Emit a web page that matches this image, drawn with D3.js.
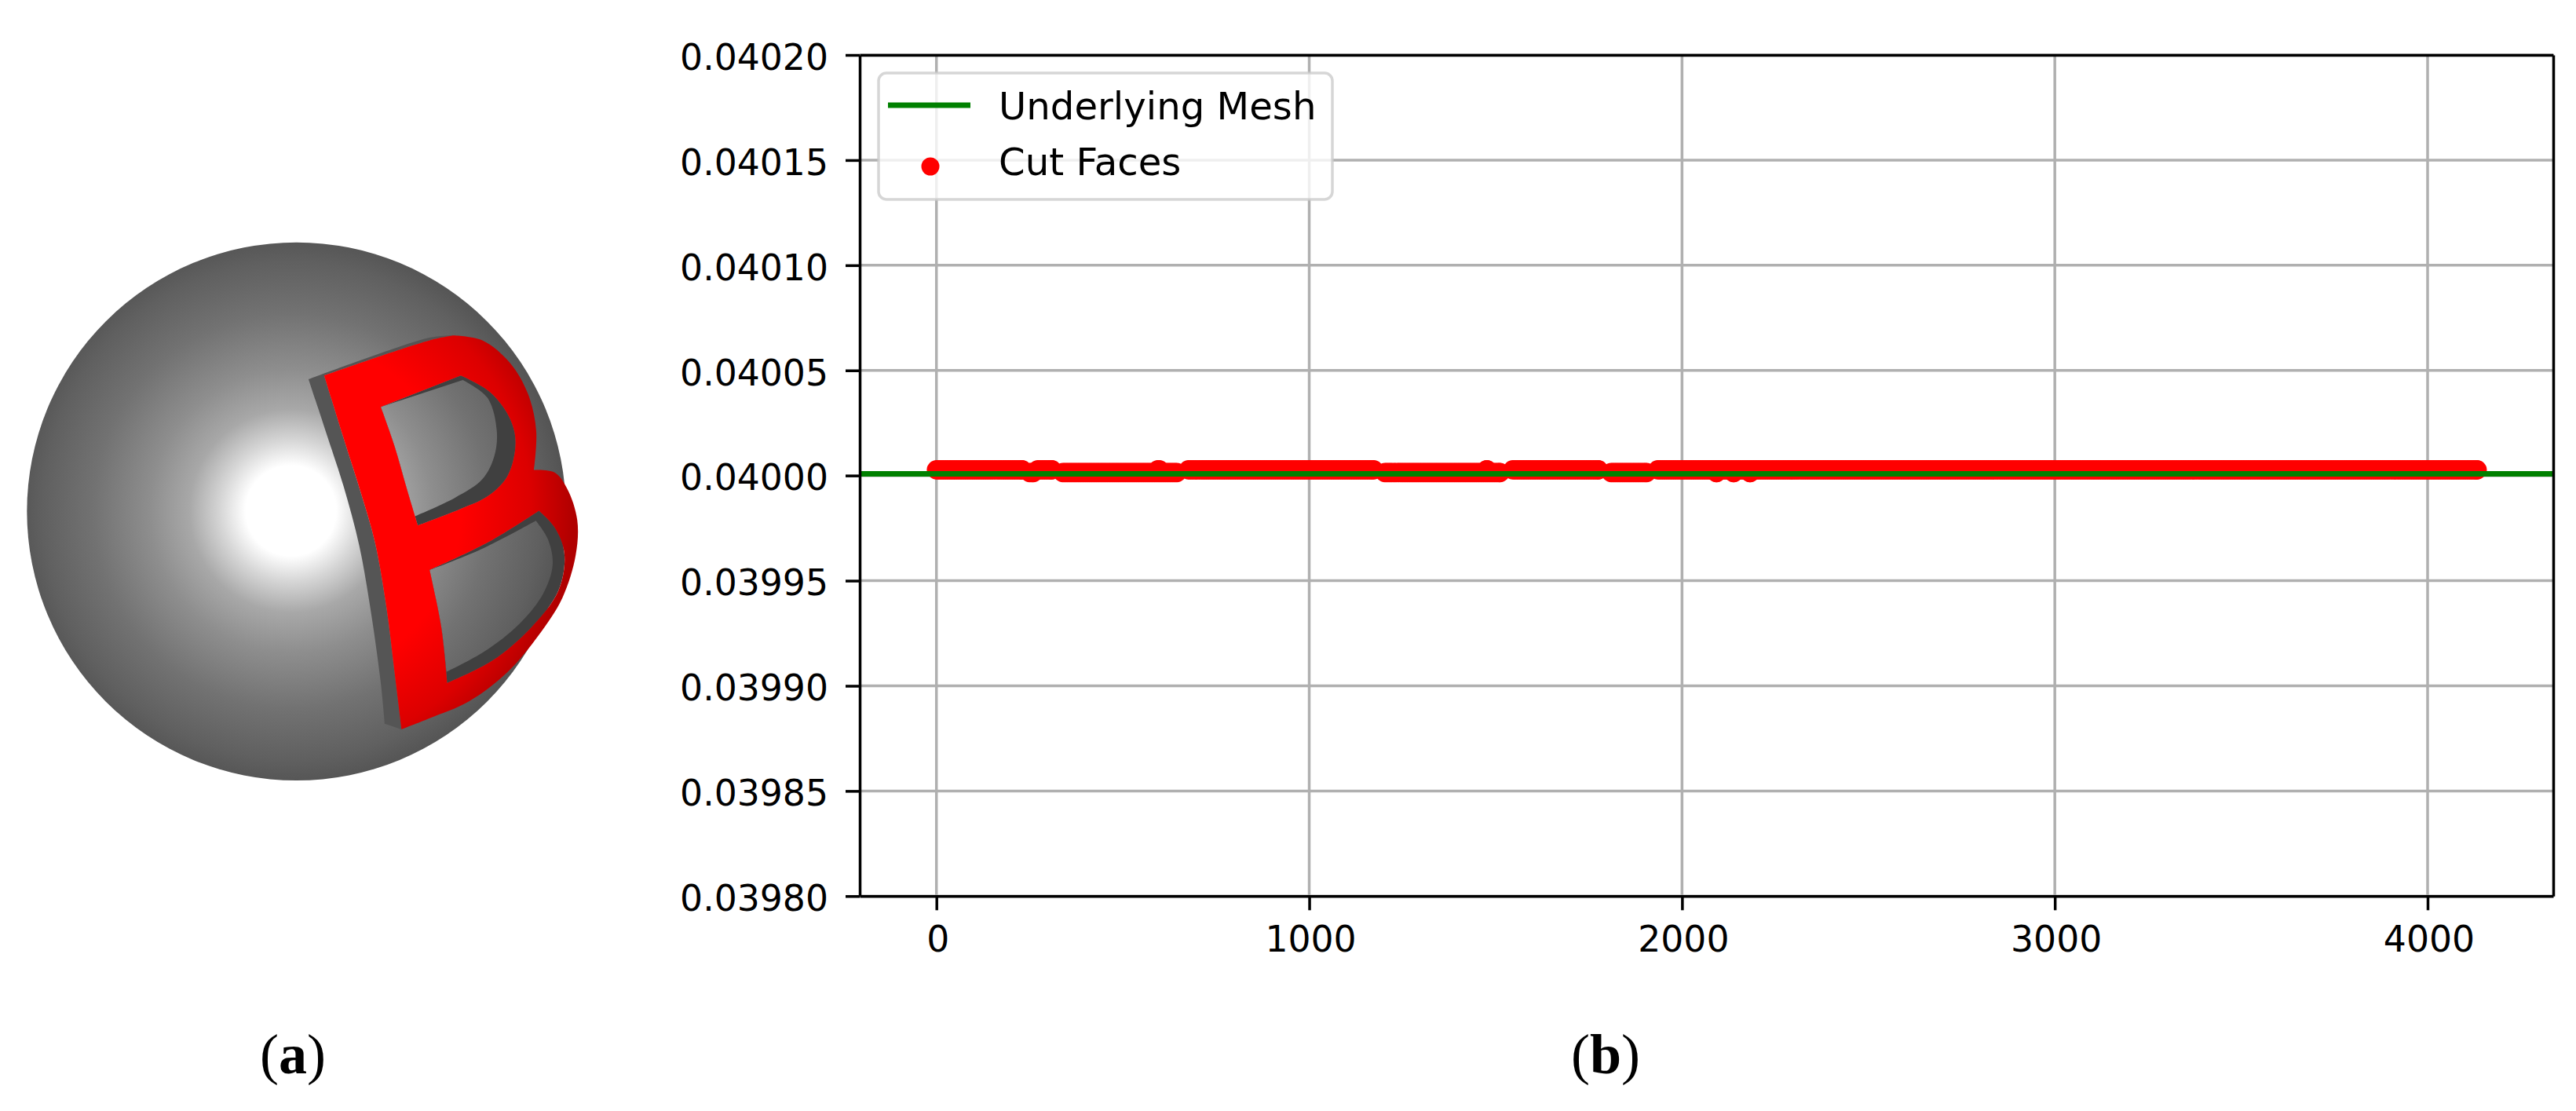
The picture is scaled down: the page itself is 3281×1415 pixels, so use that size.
<!DOCTYPE html>
<html><head><meta charset="utf-8">
<script src="https://cdnjs.cloudflare.com/ajax/libs/d3/7.8.5/d3.min.js"></script>
<style>html,body{margin:0;padding:0;background:#fff}svg{display:block}</style>
</head><body>
<script>
// ---- chart (b) data ----
const xTicks = [0, 1000, 2000, 3000, 4000];
const yTicks = [0.0398, 0.03985, 0.0399, 0.03995, 0.04, 0.04005, 0.0401, 0.04015, 0.0402];
const xDomain = [-205.8, 4337];
const yDomain = [0.0398, 0.0402];
const meshValue = 0.0400008;
const legendLabels = ["Underlying Mesh", "Cut Faces"];
const captions = ["a", "b"];
const highValue = 0.0400027;
const lowValue = 0.0400014;
// face-index runs, at the upper level and at the lower level
const highRuns = [[0, 230], [272, 310], [594, 598], [676, 1173], [1476, 1477], [1546, 1776], [1935, 4133]];
const lowRuns = [[250, 260], [339, 645], [1203, 1512], [1810, 1905], [2092, 2093], [2138, 2139], [2182, 2183]];
const faceStep = 6;

// ---- panel (a) outline, in picture units ----
const sphereCentre = [759, 787];
const sphereRadius = [690, 726];
const sideStrip = [[[790,430],[840,590],[880,720],[920,880],[950,1060],[975,1250],[985,1360]],[[985,1360],[1028,1375]],[[1028,1375],[1010,1220],[990,1050],[960,870],[925,740],[880,590],[830,420]],[[830,420],[1100,325],[1160,312]],[[1160,312],[1100,318],[790,430]]];
const outerB = [[[830,420],[1100,325],[1160,312]],[[1160,312],[1235,325],[1305,385],[1352,470],[1373,570],[1367,675]],[[1367,675],[1420,682],[1452,725],[1478,810],[1474,905],[1440,1020],[1380,1120],[1300,1220],[1200,1300],[1100,1345],[1028,1375]],[[1028,1375],[1010,1220],[990,1050],[960,870],[925,740],[880,590],[830,420]]];
const upperHole = [[[975,505],[1180,420]],[[1180,420],[1255,465],[1305,535],[1320,600],[1300,690],[1250,745],[1180,780],[1070,825]],[[1070,825],[1040,720],[1010,610],[975,505]]];
const upperFloor = [[[975,505],[1185,432]],[[1185,432],[1248,480],[1272,570],[1265,640],[1235,700],[1165,750],[1062,800]],[[1062,800],[1040,720],[1010,610],[975,505]]];
const lowerHole = [[[1100,945],[1250,870],[1380,785]],[[1380,785],[1420,830],[1445,900],[1430,1000],[1360,1100],[1260,1190],[1145,1250]],[[1145,1250],[1130,1100],[1100,945]]];
const lowerFloor = [[[1100,945],[1230,890],[1372,812]],[[1372,812],[1402,860],[1415,930],[1390,1010],[1330,1090],[1240,1165],[1143,1220]],[[1143,1220],[1130,1100],[1100,945]]];

// ---- layout ----
const W = 3281, H = 1415;
const plot = {l: 1095, r: 3252, t: 70, b: 1141.3};
const svg = d3.select("body").append("svg").attr("width", W).attr("height", H).attr("viewBox", `0 0 ${W} ${H}`);
const font = "'DejaVu Sans', sans-serif";

const px = d3.scaleLinear().domain([0, 1568]).range([0, 780]);
const py = d3.scaleLinear().domain([0, 1568]).range([280, 280 + 740]);
const defs = svg.append("defs");
function radial(id, stops) {
  const g = defs.append("radialGradient").attr("id", id).attr("gradientUnits", "userSpaceOnUse")
    .attr("cx", px(745)).attr("cy", py(785)).attr("r", 360);
  stops.forEach(s => g.append("stop").attr("offset", s[0]).attr("stop-color", s[1]));
}
radial("ball", [[0,"#ffffff"],[0.16,"#ffffff"],[0.25,"#d6d6d6"],[0.36,"#a8a8a8"],[0.5,"#8e8e8e"],[0.7,"#727272"],[0.88,"#606060"],[1,"#505050"]]);
radial("redface", [[0,"#ff0000"],[0.6,"#ff0000"],[0.85,"#dc0000"],[1,"#b00000"]]);

const smooth = d3.line().x(d => px(d[0])).y(d => py(d[1])).curve(d3.curveCatmullRom.alpha(0.5));
const loop = arcs => arcs.map((a, i) => { const s = smooth(a); return i ? "L" + s.slice(1) : s; }).join("") + "Z";

// panel (a)
const a = svg.append("g");
a.append("ellipse").attr("cx", px(sphereCentre[0])).attr("cy", py(sphereCentre[1]))
  .attr("rx", px(sphereRadius[0]) - px(0)).attr("ry", py(sphereRadius[1]) - py(0)).attr("fill", "url(#ball)");
a.append("path").attr("d", loop(sideStrip)).attr("fill", "#555555");
a.append("path").attr("d", loop(upperHole)).attr("fill", "#404040");
a.append("path").attr("d", loop(lowerHole)).attr("fill", "#404040");
a.append("path").attr("d", loop(upperFloor)).attr("fill", "url(#ball)");
a.append("path").attr("d", loop(lowerFloor)).attr("fill", "url(#ball)");
a.append("path").attr("d", loop(outerB) + loop(upperHole) + loop(lowerHole))
  .attr("fill", "url(#redface)").attr("fill-rule", "evenodd");

// panel (b)
const x = d3.scaleLinear().domain(xDomain).range([plot.l, plot.r]);
const y = d3.scaleLinear().domain(yDomain).range([plot.b, plot.t]);
const gridColor = "#b0b0b0", lw = 3.5;

const grid = svg.append("g");
grid.selectAll(".gx").data(xTicks).join("line").attr("x1", x).attr("x2", x).attr("y1", plot.t).attr("y2", plot.b)
  .attr("stroke", gridColor).attr("stroke-width", lw);
grid.selectAll(".gy").data(yTicks).join("line").attr("y1", y).attr("y2", y).attr("x1", plot.l).attr("x2", plot.r)
  .attr("stroke", gridColor).attr("stroke-width", lw);

const faces = [];
highRuns.forEach(r => { d3.range(r[0], r[1], faceStep).concat([r[1]]).forEach(i => faces.push([i, highValue])); });
lowRuns.forEach(r => { d3.range(r[0], r[1], faceStep).concat([r[1]]).forEach(i => faces.push([i, lowValue])); });
svg.append("g").selectAll("circle").data(faces).join("circle")
  .attr("cx", d => x(d[0])).attr("cy", d => y(d[1])).attr("r", 12.3).attr("fill", "#ff0000");

svg.append("line").attr("x1", plot.l).attr("x2", plot.r).attr("y1", y(meshValue)).attr("y2", y(meshValue))
  .attr("stroke", "#008000").attr("stroke-width", 7);

const axB = d3.axisBottom(x).tickValues(xTicks).tickFormat(d3.format("d")).tickSize(18).tickSizeOuter(0);
const axL = d3.axisLeft(y).tickValues(yTicks).tickFormat(d3.format(".5f")).tickSize(18).tickSizeOuter(0).tickPadding(22);
const axT = d3.axisTop(x).tickValues([]).tickSize(0);
const axR = d3.axisRight(y).tickValues([]).tickSize(0);
const gB = svg.append("g").attr("transform", `translate(0,${plot.b})`).call(axB);
const gL = svg.append("g").attr("transform", `translate(${plot.l},0)`).call(axL);
svg.append("g").attr("transform", `translate(0,${plot.t})`).call(axT);
svg.append("g").attr("transform", `translate(${plot.r},0)`).call(axR);
svg.selectAll(".domain").attr("stroke", "#000").attr("stroke-width", lw);
svg.selectAll(".tick line").attr("stroke", "#000").attr("stroke-width", lw);
svg.selectAll(".tick text").attr("font-family", font).attr("font-size", 45.7).attr("fill", "#000");
gL.selectAll(".tick text").attr("dy", "0.40em");
gB.selectAll(".tick text").attr("y", 70.4).attr("dy", 0).attr("dx", 1.5);

// legend
const lg = svg.append("g");
lg.append("rect").attr("x", 1119).attr("y", 93).attr("width", 578).attr("height", 161).attr("rx", 10)
  .attr("fill", "#fff").attr("fill-opacity", 0.8).attr("stroke", "#cccccc").attr("stroke-opacity", 0.8).attr("stroke-width", 3.5);
lg.append("line").attr("x1", 1131).attr("x2", 1236).attr("y1", 134).attr("y2", 134).attr("stroke", "#008000").attr("stroke-width", 7);
lg.append("circle").attr("cx", 1185).attr("cy", 212).attr("r", 11.5).attr("fill", "#ff0000");
lg.selectAll("text").data(legendLabels).join("text").attr("x", 1272).attr("y", (d, i) => 152 + i * 71)
  .attr("font-family", font).attr("font-size", 48.2).attr("fill", "#000").text(d => d);

// captions
const capG = svg.append("g").attr("font-family", "'Liberation Serif', serif").attr("font-size", 72).attr("fill", "#000").attr("text-anchor", "middle");
capG.selectAll("text").data(captions).join("text")
  .attr("x", (d, i) => [373, 2045][i]).attr("y", 1367)
  .each(function (d) {
    const t = d3.select(this);
    t.append("tspan").text("(");
    t.append("tspan").attr("font-weight", "bold").text(d);
    t.append("tspan").text(")");
  });
</script>
</body></html>
